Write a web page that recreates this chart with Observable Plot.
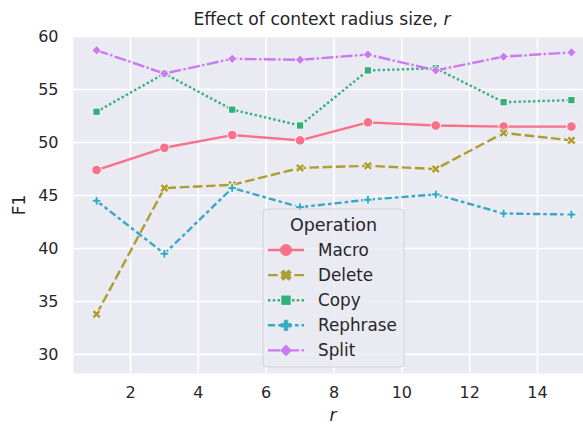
<!DOCTYPE html>
<html>
<head>
<meta charset="utf-8">
<script src="https://cdn.jsdelivr.net/npm/d3@7"></script>
<script src="https://cdn.jsdelivr.net/npm/@observablehq/plot@0.6"></script>
<style>
  html, body { margin: 0; padding: 0; background: white; overflow: hidden; }
  #chart { width: 583px; height: 425px; }
</style>
</head>
<body>
<div id="chart"></div>
<script>
// ---- data ----
const operations = ["Macro", "Delete", "Copy", "Rephrase", "Split"];
const radius = [1, 3, 5, 7, 9, 11, 13, 15];
const macro    = [47.4, 49.5, 50.7, 50.2, 51.9, 51.6, 51.5, 51.5];
const del      = [33.8, 45.7, 46.0, 47.6, 47.8, 47.5, 50.9, 50.2];
const copy     = [52.9, 56.5, 53.1, 51.6, 56.8, 57.0, 53.8, 54.0];
const rephrase = [44.5, 39.5, 45.7, 43.9, 44.6, 45.1, 43.3, 43.2];
const split    = [58.7, 56.5, 57.9, 57.8, 58.3, 56.8, 58.1, 58.5];
const xTicks = [2, 4, 6, 8, 10, 12, 14];
const yTicks = [30, 35, 40, 45, 50, 55, 60];

const seriesValues = [macro, del, copy, rephrase, split];
const rows = [];
operations.forEach((op, i) => radius.forEach((r, j) => rows.push({op, r, f1: seriesValues[i][j]})));

// ---- styles ----
const colors = ["#f77189", "#ae9d31", "#33b07a", "#38a9c5", "#cc7af4"];
const lw = 2.4;
const dashes = [null, "9.6,3.6", "2.4,2.4", "7.2,3,3.6,3", "12,2.4,2.4,2.4"];

function polyPlus(ctx, h, rot) {
  const pts = [[-1,-3],[1,-3],[1,-1],[3,-1],[3,1],[1,1],[1,3],[-1,3],[-1,1],[-3,1],[-3,-1],[-1,-1]];
  const c = Math.cos(rot), s = Math.sin(rot);
  pts.forEach(([x, y], i) => {
    x *= h / 3; y *= h / 3;
    const X = x * c - y * s, Y = x * s + y * c;
    i ? ctx.lineTo(X, Y) : ctx.moveTo(X, Y);
  });
  ctx.closePath();
}
const rad = size => Math.sqrt(size / Math.PI);
const symbols = [
  {draw(ctx, size) { const r = rad(size); ctx.moveTo(r, 0); ctx.arc(0, 0, r, 0, 2 * Math.PI); }},
  {draw(ctx, size) { polyPlus(ctx, rad(size) * 1.0, Math.PI / 4); }},
  {draw(ctx, size) { const h = rad(size) * 0.76; ctx.moveTo(-h, -h); ctx.lineTo(h, -h); ctx.lineTo(h, h); ctx.lineTo(-h, h); ctx.closePath(); }},
  {draw(ctx, size) { polyPlus(ctx, rad(size) * 0.92, 0); }},
  {draw(ctx, size) { const h = rad(size) * 0.98; ctx.moveTo(0, -h); ctx.lineTo(h, 0); ctx.lineTo(0, h); ctx.lineTo(-h, 0); ctx.closePath(); }}
];

const textColor = "#262626";
const marks = [
  Plot.frame({fill: "#eaeaf2", stroke: null}),
  Plot.gridX(xTicks, {stroke: "white", strokeOpacity: 1, strokeWidth: 1.6}),
  Plot.gridY(yTicks, {stroke: "white", strokeOpacity: 1, strokeWidth: 1.6}),
  Plot.axisX(xTicks, {tickSize: 0, tickPadding: 13, fontSize: 16, fill: textColor, label: null}),
  Plot.axisY(yTicks, {tickSize: 0, tickPadding: 15, fontSize: 16, fill: textColor, label: null})
];
operations.forEach((op, i) => {
  const d = rows.filter(r => r.op === op);
  marks.push(Plot.line(d, {x: "r", y: "f1", stroke: colors[i], strokeWidth: lw, strokeDasharray: dashes[i], strokeLinecap: "butt", strokeLinejoin: "round"}));
});
operations.forEach((op, i) => {
  const d = rows.filter(r => r.op === op);
  marks.push(Plot.dot(d, {x: "r", y: "f1", symbol: symbols[i], r: 4.8, fill: colors[i], stroke: "white", strokeWidth: 0.9}));
});

const chart = Plot.plot({
  width: 583,
  height: 425,
  marginLeft: 73,
  marginRight: 0,
  marginTop: 36,
  marginBottom: 52,
  style: {fontFamily: "DejaVu Sans", fontSize: "16px", color: textColor, background: "white", overflow: "visible"},
  x: {domain: [0.32, 15.356]},
  y: {domain: [28.2, 60]},
  marks
});
document.getElementById("chart").appendChild(chart);

// ---- title, axis labels, legend ----
const svg = d3.select(chart);
const title = svg.append("text")
  .attr("x", 322).attr("y", 25).attr("text-anchor", "middle")
  .attr("font-size", 17.2).attr("fill", textColor);
title.append("tspan").text("Effect of context radius size, ");
title.append("tspan").attr("font-style", "italic").text("r");

svg.append("text").attr("x", 333).attr("y", 421).attr("text-anchor", "middle")
  .attr("font-size", 17).attr("font-style", "italic").attr("fill", textColor).text("r");

svg.append("text").attr("transform", "translate(25,205) rotate(-90)").attr("text-anchor", "middle")
  .attr("font-size", 17).attr("fill", textColor).text("F1");

const lg = svg.append("g");
lg.append("rect").attr("x", 263).attr("y", 209).attr("width", 141).attr("height", 158).attr("rx", 4)
  .attr("fill", "#eaeaf2").attr("fill-opacity", 0.8).attr("stroke", "#cccccc").attr("stroke-opacity", 0.8);
lg.append("text").attr("x", 333.5).attr("y", 231).attr("text-anchor", "middle")
  .attr("font-size", 17.5).attr("fill", textColor).text("Operation");
operations.forEach((op, i) => {
  const y = 250 + i * 25.1;
  lg.append("line").attr("x1", 268).attr("x2", 304).attr("y1", y).attr("y2", y)
    .attr("stroke", colors[i]).attr("stroke-width", lw).attr("stroke-dasharray", dashes[i]);
  lg.append("path").attr("transform", `translate(286,${y})`)
    .attr("d", d3.symbol().type(symbols[i]).size(Math.PI * 5.6 * 5.6)())
    .attr("fill", colors[i]).attr("stroke", colors[i]).attr("stroke-width", 0.8);
  lg.append("text").attr("x", 318).attr("y", y + 6).attr("text-anchor", "start")
    .attr("font-size", 16.8).attr("fill", textColor).text(op);
});
</script>
</body>
</html>
